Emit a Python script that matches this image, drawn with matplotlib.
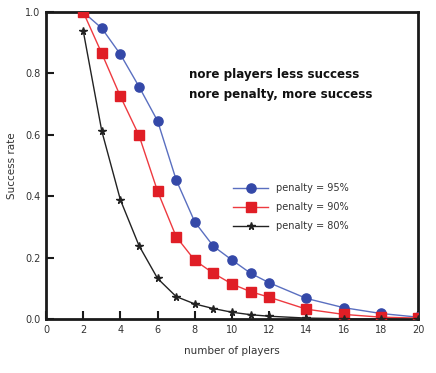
import matplotlib
matplotlib.use("Agg")
import matplotlib.pyplot as plt

players_95 = [2, 3, 4, 5, 6, 7, 8, 9, 10, 11, 12, 14, 16, 18, 20]
success_95 = [1.0, 0.947, 0.862, 0.757, 0.645, 0.453, 0.316, 0.237, 0.192, 0.149, 0.118, 0.067, 0.037, 0.018, 0.006]

players_90 = [2, 3, 4, 5, 6, 7, 8, 9, 10, 11, 12, 14, 16, 18, 20]
success_90 = [1.0, 0.865, 0.725, 0.598, 0.416, 0.268, 0.191, 0.149, 0.114, 0.089, 0.071, 0.032, 0.015, 0.006, 0.003]

players_80 = [2, 3, 4, 5, 6, 7, 8, 9, 10, 11, 12, 14, 16, 18, 20]
success_80 = [0.939, 0.612, 0.388, 0.239, 0.132, 0.073, 0.049, 0.034, 0.022, 0.014, 0.009, 0.003, 0.001, 0.0005, 0.0]

labels = ["penalty = 95%", "penalty = 90%", "penalty = 80%"]
x_ticks = [0, 2, 4, 6, 8, 10, 12, 14, 16, 18, 20]
y_ticks = [0.0, 0.2, 0.4, 0.6, 0.8, 1.0]
annotation = ["nore players less success", "nore penalty, more success"]

fig = plt.figure(figsize=(4.36, 3.73), dpi=100)
ax = fig.add_axes([46/436, 54/373, 372/436, 307/373])

ax.plot(players_95, success_95, color="#5a6fc0", lw=1.0, marker="o", ms=6.6,
        mfc="#3448a8", mec="#3448a8", label=labels[0], zorder=3)
ax.plot(players_90, success_90, color="#ee3a40", lw=1.0, marker="s", ms=7.2,
        mfc="#e01e26", mec="#e01e26", label=labels[1], zorder=4)
ax.plot(players_80, success_80, color="#222222", lw=1.0, marker="*", ms=5.5,
        mfc="#222222", mec="#222222", label=labels[2], zorder=5)

ax.set_xlim(0, 20)
ax.set_ylim(0, 1.0)
ax.set_xticks(x_ticks)
ax.set_yticks(y_ticks)
ax.set_yticklabels([f"{v:.1f}" for v in y_ticks])
ax.tick_params(direction="in", length=6, width=1.5, color="#1a1a1a",
               labelsize=7, labelcolor="#333333", pad=4)
for s in ax.spines.values():
    s.set_linewidth(2)
    s.set_color("#1a1a1a")

ax.set_xlabel("number of players", fontsize=7.5, color="#333333", labelpad=8)
ax.set_ylabel("Success rate", fontsize=7.5, color="#333333", labelpad=6)

ax.text(7.7, 0.795, annotation[0], fontsize=8.6, fontweight="bold", color="#111111",
        va="center", ha="left")
ax.text(7.7, 0.73, annotation[1], fontsize=8.6, fontweight="bold", color="#111111",
        va="center", ha="left")

leg = ax.legend(loc="upper left", bbox_to_anchor=(0.48, 0.47), frameon=False,
                fontsize=7, handlelength=3.6, labelspacing=0.9, handletextpad=0.8,
                labelcolor="#333333")

fig.savefig("out.png", dpi=100)
